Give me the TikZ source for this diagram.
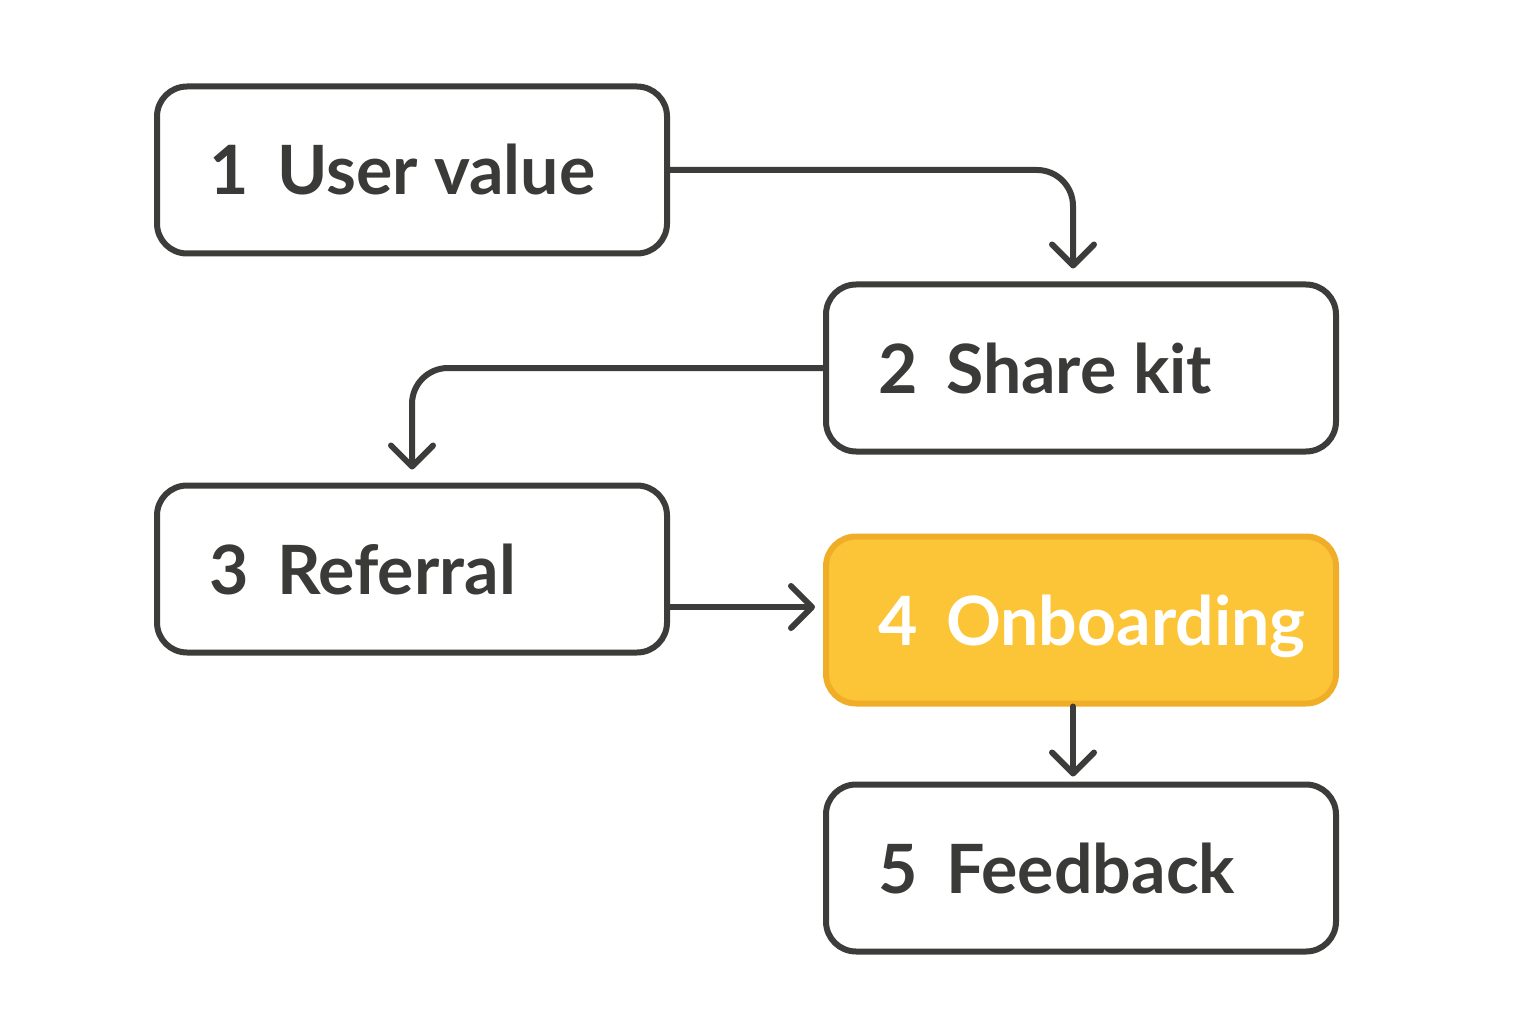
\documentclass[tikz,border=0pt]{standalone}
\usepackage{fontspec}
\setmainfont{Lato}
\usetikzlibrary{arrows.meta,calc}
\definecolor{ink}{HTML}{3C3D3A}
\definecolor{txt}{HTML}{3A3B38}
\definecolor{gold}{HTML}{FCC537}
\definecolor{goldline}{HTML}{F0AE28}
\newcommand\lefttext[1]{\makebox[406pt][l]{#1}}
\begin{document}
\begin{tikzpicture}[x=1pt,y=-1pt,
  stepbox/.style={draw=ink, line width=6pt, fill=white, rounded corners=30pt,
    minimum width=510pt, minimum height=167pt, inner xsep=52pt,
    text height=50pt, text depth=0pt, text=txt,
    font=\fontsize{68}{82}\selectfont\bfseries},
  hot/.style={stepbox, draw=goldline, fill=gold, text=white},
  conn/.style={draw=ink, line width=6pt, line cap=round,
    -{Straight Barb[length=21pt,width=42pt,round]}}
]
\useasboundingbox (0,0) rectangle (1536,1024);
\fill[white] (0,0) rectangle (1536,1024);
\node[stepbox] (b1) at (412,170) {\lefttext{1\hspace{0.18em} User value}};
\node[stepbox] (b2) at (1081,368) {\lefttext{2\hspace{0.18em} Share kit}};
\node[stepbox] (b3) at (412,569) {\lefttext{3\hspace{0.18em} Referral}};
\node[hot]     (b4) at (1081,620) {\lefttext{4\hspace{0.18em} Onboarding}};
\node[stepbox] (b5) at (1081,868) {\lefttext{5\hspace{0.18em} Feedback}};
\draw[conn, rounded corners=36pt, shorten >=13pt] (b1.east) -| ([xshift=-8pt]b2.north);
\draw[conn, rounded corners=36pt, shorten >=13pt] (b2.west) -| (b3.north);
\draw[conn, shorten >=8pt] ([yshift=-38pt]b3.east) -- ([yshift=-38pt]b3.east -| b4.west);
\draw[conn, shorten >=5pt] ([xshift=-8pt]b4.south) -- ([xshift=-8pt]b5.north);
\end{tikzpicture}
\end{document}
